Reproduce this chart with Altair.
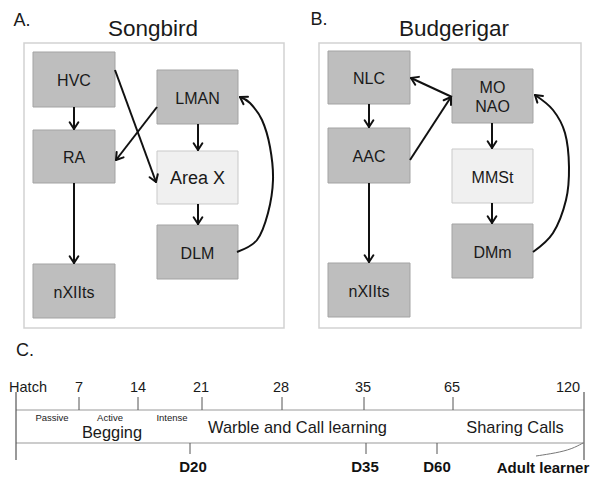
import math
import altair as alt
import pandas as pd

FONT = "Liberation Sans"

# ---------------- data: brain circuit boxes (A: songbird, B: budgerigar) -------------
node_label = ["HVC", "LMAN", "RA", "Area X", "DLM", "nXIIts",
              "NLC", "MO\nNAO", "AAC", "MMSt", "DMm", "nXIIts"]
node_x0 = [33, 157, 33, 157, 157, 33, 328, 452, 328, 452, 452, 328]
node_x1 = [115, 238, 115, 238, 238, 115, 410, 533, 410, 533, 533, 410]
node_y0 = [52, 70, 130, 151, 225, 264, 51, 69, 128, 149, 224, 263]
node_y1 = [107, 124, 183, 204, 279, 318, 104, 123, 183, 203, 278, 317]
node_light = [False, False, False, True, False, False,
              False, False, False, True, False, False]
node_fsize = [16, 16, 16, 18, 16, 16, 16, 16, 16, 16, 16, 16]

frame_x0 = [24, 319]
frame_x1 = [284, 581]
frame_y0 = [43, 43]
frame_y1 = [328, 328]

panel_letter = ["A.", "B.", "C."]
panel_letter_x = [22, 319, 25]
panel_letter_y = [26, 25, 356]
panel_title = ["Songbird", "Budgerigar"]
panel_title_x = [153, 454]
panel_title_y = [36, 36]

# straight arrows: start -> tip
arrow_x1 = [74, 74, 115, 157, 198, 198, 369, 369, 452, 410, 492, 492]
arrow_y1 = [107, 183, 70, 107, 124, 204, 104, 183, 97, 160, 123, 203]
arrow_x2 = [74, 74, 156, 116, 198, 198, 369, 369, 411, 451, 492, 492]
arrow_y2 = [129, 263, 182, 160, 150, 224, 127, 262, 78, 97, 148, 223]

# curved feedback arrows (DLM -> LMAN, DMm -> MO/NAO)
curve_g = [0] * 8 + [1] * 7
curve_x = [237, 257, 268, 273, 270, 262, 250, 240,
           533, 553, 566, 569, 565, 553, 535]
curve_y = [252, 240, 213, 180, 147, 120, 103, 97,
           252, 233, 200, 167, 133, 110, 95]

# ---------------- data: timeline (C) ----------------
tick_label = ["Hatch", "7", "14", "21", "28", "35", "65", "120"]
tick_label_x = [28, 79, 138, 201, 281, 363, 452, 568]
tick_x = [79, 138, 202, 282, 364, 453]
end_x = [16, 584]
marker_label = ["D20", "D35", "D60", "Adult learner"]
marker_label_x = [193, 365, 437, 543]
marker_label_y = [472, 472, 472, 473]
marker_tick_x = [190, 366, 437]
small_phase = ["Passive", "Active", "Intense"]
small_phase_x = [52, 110, 172]
big_phase = ["Begging", "Warble and Call learning", "Sharing Calls"]
big_phase_x = [112, 297.5, 515]
big_phase_y = [438, 433, 433]
connector_x = [536, 556, 572, 583]
connector_y = [456, 453, 449, 443]

# ---------------- scales ----------------
XS = alt.Scale(domain=[8, 592], nice=False, zero=False)
YS = alt.Scale(domain=[8, 490], nice=False, zero=False, reverse=True)
LINE_H = 19


def ex(f):
    return alt.X(f, type="quantitative", scale=XS, axis=None)


def ey(f):
    return alt.Y(f, type="quantitative", scale=YS, axis=None)


layers = []

# frames
frames = pd.DataFrame({"x0": frame_x0, "x1": frame_x1, "y0": frame_y0, "y1": frame_y1})
layers.append(alt.Chart(frames).mark_rect(fill=None, stroke="#d2d2d2", strokeWidth=1.5).encode(
    x=ex("x0"), x2="x1", y=ey("y0"), y2="y1"))

# boxes
nodes = pd.DataFrame({"label": node_label, "x0": node_x0, "x1": node_x1,
                      "y0": node_y0, "y1": node_y1, "light": node_light,
                      "fs": node_fsize})
nodes["fill"] = ["#f0f0f0" if l else "#bebebe" for l in nodes["light"]]
nodes["stroke"] = ["#c9c9c9" if l else "#a3a3a3" for l in nodes["light"]]
nodes["cx"] = (nodes["x0"] + nodes["x1"]) / 2
nlines = nodes["label"].str.count("\n")
nodes["cy"] = (nodes["y0"] + nodes["y1"]) / 2 + 1.5 - nlines * LINE_H / 2
layers.append(alt.Chart(nodes).mark_rect(strokeWidth=1).encode(
    x=ex("x0"), x2="x1", y=ey("y0"), y2="y1",
    fill=alt.Fill("fill:N", scale=None), stroke=alt.Stroke("stroke:N", scale=None)))
for fs in sorted(set(node_fsize)):
    sub = nodes[nodes["fs"] == fs]
    layers.append(alt.Chart(sub).mark_text(font=FONT, fontSize=fs, color="#1a1a1a",
                                           baseline="middle", lineBreak="\n",
                                           lineHeight=LINE_H).encode(
        x=ex("cx"), y=ey("cy"), text="label:N"))

# straight arrows
arrows = pd.DataFrame({"x1": arrow_x1, "y1": arrow_y1, "x2": arrow_x2, "y2": arrow_y2})
layers.append(alt.Chart(arrows).mark_rule(strokeWidth=2, color="#111111").encode(
    x=ex("x1"), y=ey("y1"), x2="x2", y2="y2"))

# curves
curves = pd.DataFrame({"g": curve_g, "x": curve_x, "y": curve_y})
curves["o"] = range(len(curves))
layers.append(alt.Chart(curves).mark_line(interpolate="cardinal", strokeWidth=2,
                                          color="#111111").encode(
    x=ex("x"), y=ey("y"), detail="g:N", order="o:Q"))

# arrowheads (derived from arrow directions)
heads = []
dirs = list(zip(arrow_x1, arrow_y1, arrow_x2, arrow_y2))
for g in sorted(set(curve_g)):
    pts = [(x, y) for gg, x, y in zip(curve_g, curve_x, curve_y) if gg == g]
    dirs.append((pts[-2][0], pts[-2][1], pts[-1][0], pts[-1][1]))
for (a, b, c, d) in dirs:
    ang = math.atan2(d - b, c - a)
    for s in (1, -1):
        th = ang + math.pi + s * math.radians(33)
        heads.append({"x1": c, "y1": d, "x2": c + 8 * math.cos(th), "y2": d + 8 * math.sin(th)})
layers.append(alt.Chart(pd.DataFrame(heads)).mark_rule(strokeWidth=2, color="#111111",
                                                       strokeCap="round").encode(
    x=ex("x1"), y=ey("y1"), x2="x2", y2="y2"))

# panel letters & titles
letters = pd.DataFrame({"t": panel_letter, "x": panel_letter_x, "y": panel_letter_y})
layers.append(alt.Chart(letters).mark_text(font=FONT, fontSize=18, color="#1a1a1a",
                                           baseline="alphabetic").encode(
    x=ex("x"), y=ey("y"), text="t:N"))
titles = pd.DataFrame({"t": panel_title, "x": panel_title_x, "y": panel_title_y})
layers.append(alt.Chart(titles).mark_text(font=FONT, fontSize=22.5, color="#1a1a1a",
                                          baseline="alphabetic").encode(
    x=ex("x"), y=ey("y"), text="t:N"))

# timeline band lines
band = pd.DataFrame({"x0": [16, 16], "x1": [584, 584], "y": [410, 443]})
layers.append(alt.Chart(band).mark_rule(strokeWidth=2, color="#cccccc").encode(
    x=ex("x0"), x2="x1", y=ey("y")))
# end verticals
ends = pd.DataFrame({"x": end_x, "y0": [392, 392], "y1": [460, 460]})
layers.append(alt.Chart(ends).mark_rule(strokeWidth=1.2, color="#555555").encode(
    x=ex("x"), y=ey("y0"), y2="y1"))
# top ticks
tt = pd.DataFrame({"x": tick_x, "y0": [397] * len(tick_x), "y1": [410] * len(tick_x)})
layers.append(alt.Chart(tt).mark_rule(strokeWidth=1, color="#555555").encode(
    x=ex("x"), y=ey("y0"), y2="y1"))
# bottom ticks
bt = pd.DataFrame({"x": marker_tick_x, "y0": [443] * 3, "y1": [454] * 3})
layers.append(alt.Chart(bt).mark_rule(strokeWidth=1, color="#555555").encode(
    x=ex("x"), y=ey("y0"), y2="y1"))
# connector for adult learner
conn = pd.DataFrame({"x": connector_x, "y": connector_y, "o": range(len(connector_x))})
layers.append(alt.Chart(conn).mark_line(interpolate="basis", strokeWidth=1,
                                        color="#777777").encode(
    x=ex("x"), y=ey("y"), order="o:Q"))

# tick labels
tl = pd.DataFrame({"t": tick_label, "x": tick_label_x, "y": [392] * len(tick_label)})
layers.append(alt.Chart(tl).mark_text(font=FONT, fontSize=14.5, color="#1a1a1a",
                                      baseline="alphabetic").encode(
    x=ex("x"), y=ey("y"), text="t:N"))
# phase labels
sp = pd.DataFrame({"t": small_phase, "x": small_phase_x, "y": [421] * 3})
layers.append(alt.Chart(sp).mark_text(font=FONT, fontSize=9.5, color="#1a1a1a",
                                      baseline="alphabetic").encode(
    x=ex("x"), y=ey("y"), text="t:N"))
bp = pd.DataFrame({"t": big_phase, "x": big_phase_x, "y": big_phase_y})
layers.append(alt.Chart(bp).mark_text(font=FONT, fontSize=16.4, color="#1a1a1a",
                                      baseline="alphabetic").encode(
    x=ex("x"), y=ey("y"), text="t:N"))
# markers
ml = pd.DataFrame({"t": marker_label, "x": marker_label_x, "y": marker_label_y})
layers.append(alt.Chart(ml).mark_text(font=FONT, fontSize=15, fontWeight="bold",
                                      color="#111111", baseline="alphabetic").encode(
    x=ex("x"), y=ey("y"), text="t:N"))

chart = alt.layer(*layers).properties(
    width=584, height=482, padding=0,
    autosize=alt.AutoSizeParams(type="none"),
).configure_view(stroke=None)

chart.save("out.html", embed_options={"renderer": "svg", "actions": False})
